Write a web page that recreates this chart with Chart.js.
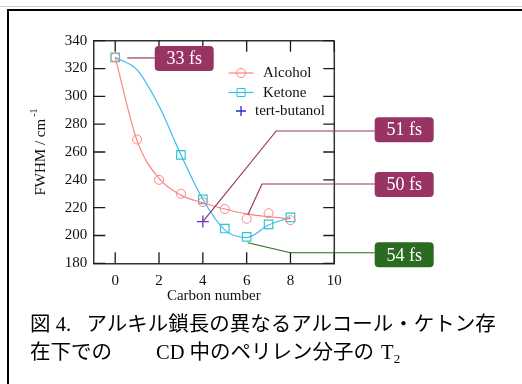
<!DOCTYPE html>
<html>
<head>
<meta charset="utf-8">
<script src="https://cdn.jsdelivr.net/npm/chart.js@4.4.1/dist/chart.umd.min.js"></script>
<style>
  html, body { margin: 0; padding: 0; background: #fff; }
  #wrap { position: relative; width: 522px; height: 384px; overflow: hidden; }
  #rule { position: absolute; left: 0; top: 6px; width: 522px; height: 1px; background: #cfcfcf; }
  #frame { position: absolute; left: 7px; top: 9px; width: 700px; height: 600px;
           border-left: 2px solid #000; border-top: 2px solid #000; }
  canvas { position: absolute; left: 0; top: 0; }
  .cap { position: absolute; left: 30px; font-family: "Noto Sans CJK JP", sans-serif;
         font-size: 20.5px; line-height: 24px; color: #000; white-space: nowrap; }
  .ser { font-family: "Liberation Serif", serif; }
  .gap { display: inline-block; }
  .sub { font-size: 13px; position: relative; top: 4px; }
</style>
</head>
<body>
<div id="wrap">
  <div id="rule"></div>
  <div id="frame"></div>
  <canvas id="c" width="522" height="384"></canvas>
  <div class="cap" style="top:310px">図<span class="ser"> 4.</span><span class="gap" style="width:15.5px"></span>アルキル鎖長の異なるアルコール・ケトン存</div>
  <div class="cap" style="top:338px">在下での<span class="gap" style="width:44px"></span><span class="ser">CD</span><span class="ser"> </span>中のペリレン分子の<span class="ser" style="margin-left:7px">T<span class="sub">2</span></span></div>
</div>
<script>
// Axis ticks
const xTicks = [0, 2, 4, 6, 8, 10];
const yTicks = [180, 200, 220, 240, 260, 280, 300, 320, 340];

// Measured FWHM (cm^-1) versus carbon number
const alcoholX = [0, 1, 2, 3, 4, 5, 6, 7, 8];
const alcoholY = [328, 269, 240, 230, 224, 219, 212, 216, 211];
const ketoneX = [0, 3, 4, 5, 6, 7, 8];
const ketoneY = [328, 258, 226, 205, 199, 208, 213];
const tertX = [4];
const tertY = [210];

// Smoothed trend curves sampled at integer carbon numbers
const fitX = [0, 1, 2, 3, 4, 5, 6, 7, 8];
const alcoholFit = [328, 268, 241, 229, 223.5, 219, 215.5, 213.5, 212];
const ketoneFit = [328, 319, 293, 258, 226, 204, 198.5, 207.5, 213];

// T2 callouts
const noteText = ['33 fs', '51 fs', '50 fs', '54 fs'];

const pts = (xs, ys) => xs.map((x, i) => ({ x, y: ys[i] }));

const C_ALC = '#ff8282';
const C_KET_LINE = '#3db8f2';
const C_KET_MARK = '#2ec8cc';
const C_TERT = '#6a2fd6';
const C_NOTE = '#973464';
const C_NOTE_G = '#2b6a21';
const C_TEXT = '#111';
const SERIF = '"Liberation Serif", "Times New Roman", serif';

// callout geometry in data units: leader path from a data point, box centre
const notes = [
  { text: noteText[0], color: C_NOTE, path: [[0.55, 327.6]], bx: 3.15, by: 327.2 },
  { text: noteText[1], color: C_NOTE, path: [[4, 210], [7.35, 275.1]], bx: 13.19, by: 276.0 },
  { text: noteText[2], color: C_NOTE, path: [[6.05, 214.7], [6.7, 237.0]], bx: 13.19, by: 236.6 },
  { text: noteText[3], color: C_NOTE_G, path: [[6.05, 194.8], [8, 187.6]], bx: 13.19, by: 186.1 }
];

const frameTicks = {
  id: 'frameTicks',
  beforeDatasetsDraw(chart) {
    const { ctx, chartArea: a, scales: { x, y } } = chart;
    ctx.save();
    ctx.strokeStyle = '#333';
    ctx.lineWidth = 1.5;
    ctx.beginPath();
    ctx.moveTo(a.left, a.top); ctx.lineTo(a.right, a.top);
    ctx.moveTo(a.right, a.top); ctx.lineTo(a.right, a.bottom);
    ctx.stroke();
    ctx.strokeStyle = '#1a1a1a';
    ctx.lineWidth = 1.3;
    ctx.beginPath();
    xTicks.forEach(v => {
      const px = x.getPixelForValue(v);
      ctx.moveTo(px, a.bottom); ctx.lineTo(px, a.bottom - 11);
      ctx.moveTo(px, a.top); ctx.lineTo(px, a.top + 11);
    });
    yTicks.forEach(v => {
      const py = y.getPixelForValue(v);
      ctx.moveTo(a.left, py); ctx.lineTo(a.left + 12, py);
      ctx.moveTo(a.right, py); ctx.lineTo(a.right - 11, py);
    });
    ctx.stroke();
    ctx.restore();
  },
  afterDatasetsDraw(chart) {
    const { ctx, scales: { x, y } } = chart;
    ctx.save();
    notes.forEach(n => {
      const bw = 59, bh = 25;
      const cx = x.getPixelForValue(n.bx);
      const cy = y.getPixelForValue(n.by);
      const p = n.path.map(([dx, dy]) => [x.getPixelForValue(dx), y.getPixelForValue(dy)]);
      const endY = p[p.length - 1][1];
      ctx.strokeStyle = n.color;
      ctx.lineWidth = 1.2;
      ctx.beginPath();
      ctx.moveTo(p[0][0], p[0][1]);
      for (let i = 1; i < p.length; i++) ctx.lineTo(p[i][0], p[i][1]);
      ctx.lineTo(cx - bw / 2, endY);
      ctx.stroke();
      ctx.fillStyle = n.color;
      ctx.beginPath();
      ctx.roundRect(cx - bw / 2, cy - bh / 2, bw, bh, 4);
      ctx.fill();
      ctx.fillStyle = '#fff';
      ctx.font = '18px ' + SERIF;
      ctx.textAlign = 'center';
      ctx.textBaseline = 'middle';
      ctx.fillText(n.text, cx, cy + 1);
    });
    ctx.restore();
  },
  afterDraw(chart) {
    const { ctx } = chart;
    ctx.save();
    // legend
    const rows = [
      { label: 'Alcohol', y: 73, line: C_ALC, mark: 'circle', color: C_ALC, tx: 263 },
      { label: 'Ketone', y: 92.5, line: C_KET_LINE, mark: 'rect', color: C_KET_MARK, tx: 263 },
      { label: 'tert-butanol', y: 111, line: null, mark: 'cross', color: '#2a2ad6', tx: 255 }
    ];
    rows.forEach(r => {
      if (r.line) {
        ctx.strokeStyle = r.line; ctx.lineWidth = 1.2;
        ctx.beginPath(); ctx.moveTo(228.5, r.y); ctx.lineTo(253.5, r.y); ctx.stroke();
      }
      ctx.strokeStyle = r.color; ctx.lineWidth = 1;
      ctx.beginPath();
      if (r.mark === 'circle') ctx.arc(241, r.y, 4.5, 0, Math.PI * 2);
      else if (r.mark === 'rect') ctx.rect(237, r.y - 4, 8, 8);
      else { ctx.lineWidth = 1.3; ctx.moveTo(236, r.y); ctx.lineTo(246, r.y); ctx.moveTo(241, r.y - 5); ctx.lineTo(241, r.y + 5); }
      ctx.stroke();
      ctx.fillStyle = C_TEXT;
      ctx.font = '15px ' + SERIF;
      ctx.textAlign = 'left';
      ctx.textBaseline = 'middle';
      ctx.fillText(r.label, r.tx, r.y + 0.5);
    });
    // y-axis title with superscript
    ctx.translate(40, 152);
    ctx.rotate(-Math.PI / 2);
    ctx.font = '15px ' + SERIF;
    const main = 'FWHM / cm';
    const wMain = ctx.measureText(main).width;
    ctx.font = '10px ' + SERIF;
    const sup = '-1';
    const wSup = ctx.measureText(sup).width;
    const x0 = -(wMain + 2 + wSup) / 2;
    ctx.fillStyle = C_TEXT;
    ctx.textAlign = 'left';
    ctx.textBaseline = 'alphabetic';
    ctx.font = '15px ' + SERIF;
    ctx.fillText(main, x0, 5);
    ctx.font = '10px ' + SERIF;
    ctx.fillText(sup, x0 + wMain + 2, -3);
    ctx.restore();
  }
};

new Chart(document.getElementById('c'), {
  type: 'scatter',
  data: {
    datasets: [
      { label: 'Alcohol trend', data: pts(fitX, alcoholFit), showLine: true, borderColor: C_ALC,
        borderWidth: 1.2, pointRadius: 0, cubicInterpolationMode: 'monotone', fill: false },
      { label: 'Ketone trend', data: pts(fitX, ketoneFit), showLine: true, borderColor: C_KET_LINE,
        borderWidth: 1.2, pointRadius: 0, cubicInterpolationMode: 'monotone', fill: false },
      { label: 'Alcohol', data: pts(alcoholX, alcoholY), showLine: false, pointStyle: 'circle',
        pointRadius: 4.5, borderColor: C_ALC, backgroundColor: 'rgba(0,0,0,0)', borderWidth: 1 },
      { label: 'Ketone', data: pts(ketoneX, ketoneY), showLine: false, pointStyle: 'rect',
        pointRadius: 6, borderColor: C_KET_MARK, backgroundColor: 'rgba(0,0,0,0)', borderWidth: 1.2 },
      { label: 'tert-butanol', data: pts(tertX, tertY), showLine: false, pointStyle: 'cross',
        pointRadius: 6, borderColor: C_TERT, borderWidth: 1.3 }
    ]
  },
  options: {
    responsive: false,
    animation: false,
    devicePixelRatio: 1,
    layout: { padding: { left: 0, top: 40.7, right: 187.7, bottom: 79 } },
    plugins: { legend: { display: false }, tooltip: { enabled: false } },
    scales: {
      x: {
        type: 'linear', min: -1, max: 10,
        afterBuildTicks: s => { s.ticks = xTicks.map(v => ({ value: v })); },
        afterFit: s => { s.height = 41.7; },
        grid: { display: false, drawTicks: false },
        border: { display: true, color: '#333', width: 1.5 },
        ticks: { font: { family: SERIF, size: 15 }, color: C_TEXT, padding: 9, maxRotation: 0 },
        title: { display: true, text: 'Carbon number', font: { family: SERIF, size: 15 }, color: C_TEXT, padding: 0 }
      },
      y: {
        type: 'linear', min: 180, max: 340,
        afterBuildTicks: s => { s.ticks = yTicks.map(v => ({ value: v })); },
        afterFit: s => { s.width = 93.3; },
        grid: { display: false, drawTicks: false },
        border: { display: true, color: '#333', width: 1.5 },
        ticks: { font: { family: SERIF, size: 15 }, color: C_TEXT, padding: 6 }
      }
    }
  },
  plugins: [frameTicks]
});
</script>
</body>
</html>
